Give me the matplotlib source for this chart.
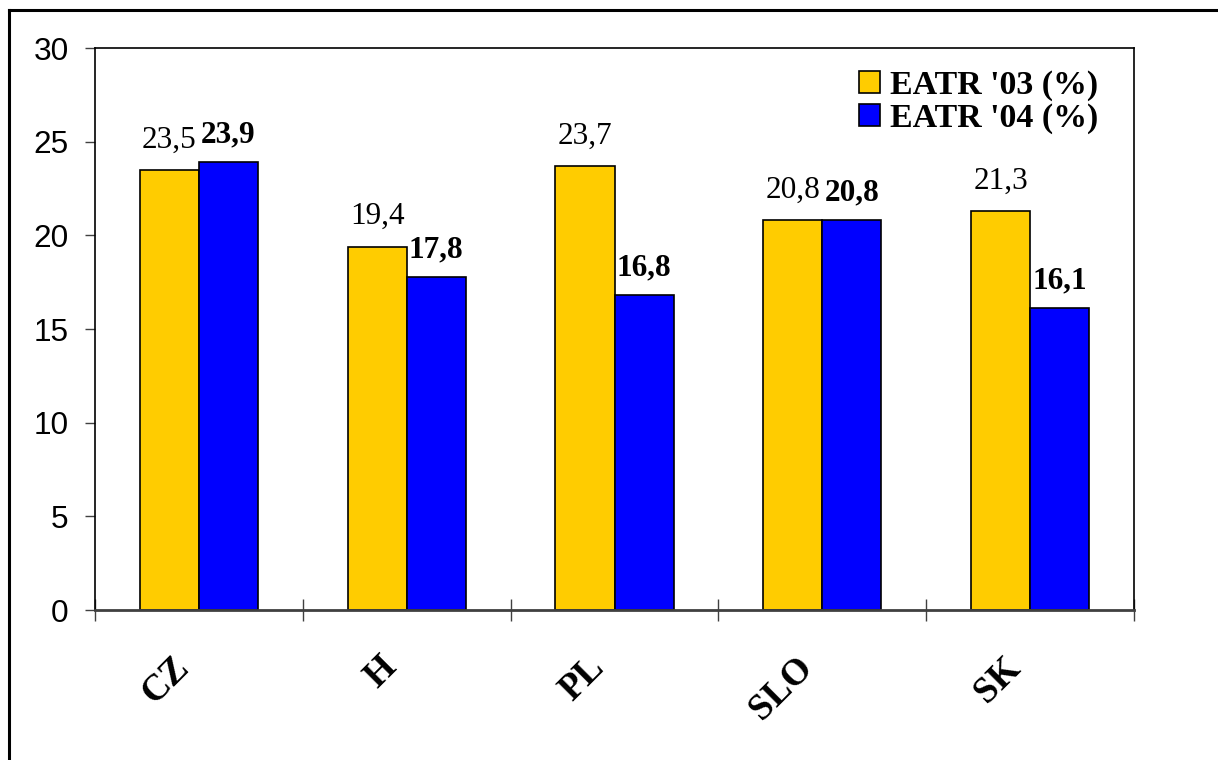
import matplotlib.pyplot as plt
from matplotlib.lines import Line2D
from matplotlib.transforms import ScaledTranslation, blended_transform_factory

# Data
countries = ['CZ', 'H', 'PL', 'SLO', 'SK']
eatr_03 = [23.5, 19.4, 23.7, 20.8, 21.3]
eatr_04 = [23.9, 17.8, 16.8, 20.8, 16.1]
series_names = ["EATR '03 (%)", "EATR '04 (%)"]
y_ticks = [0, 5, 10, 15, 20, 25, 30]

gold = '#FFCC00'
blue = '#0000FF'
serif = 'Liberation Serif'
sans = 'Liberation Sans'

fig = plt.figure(figsize=(12.18, 7.6), dpi=100)
ax = fig.add_axes([95 / 1218, 1 - 610 / 760, (1134 - 95) / 1218, (610 - 48) / 760])

centers = [i + 0.5 for i in range(len(countries))]
w = 0.284
ax.bar([c - w / 2 for c in centers], eatr_03, width=w, color=gold,
       edgecolor='black', linewidth=1.2, label=series_names[0], zorder=2)
ax.bar([c + w / 2 for c in centers], eatr_04, width=w, color=blue,
       edgecolor='black', linewidth=1.2, label=series_names[1], zorder=2)

# value labels
for c, v in zip(centers, eatr_03):
    ax.annotate(f'{v:.1f}'.replace('.', ','), (c - w / 2, v), xytext=(0, 11),
                textcoords='offset points', ha='center', va='bottom',
                fontsize=22.5, family=serif)
for c, v in zip(centers, eatr_04):
    ax.annotate(f'{v:.1f}'.replace('.', ','), (c + w / 2, v), xytext=(0, 9),
                textcoords='offset points', ha='center', va='bottom',
                fontsize=22.5, family=serif, fontweight='bold')

ax.set_xlim(0, len(countries))
ax.set_ylim(0, 30)
ax.set_yticks(y_ticks)
ax.set_yticklabels([str(t) for t in y_ticks], fontsize=22.7, family=sans)
ax.tick_params(axis='y', direction='out', length=7, width=1, color='#404040', pad=12)
ax.set_xticks(range(len(countries) + 1))
ax.set_xticklabels([])
ax.tick_params(axis='x', direction='inout', length=16, width=1, color='#404040')

# category labels, rotated
trans = blended_transform_factory(ax.transData, ax.transAxes) + \
    ScaledTranslation(-3 / 100, -40 / 100, fig.dpi_scale_trans)
for c, name in zip(centers, countries):
    ax.text(c, 0, name, transform=trans, rotation=45, ha='right', va='top',
            fontsize=26.5, family=serif, fontweight='bold')

for s in ['top', 'right', 'left']:
    ax.spines[s].set_color('black')
    ax.spines[s].set_linewidth(1.2)
ax.spines['bottom'].set_color('#404040')
ax.spines['bottom'].set_linewidth(2)

ax.legend(loc='upper right', bbox_to_anchor=(0.979, 0.985), frameon=False,
          prop={'family': serif, 'weight': 'bold', 'size': 24.4},
          handlelength=0.62, handleheight=0.62, handletextpad=0.3, labelspacing=0.05,
          borderaxespad=0)

# outer frame (left and top edges)
fig.add_artist(Line2D([9 / 1218, 9 / 1218], [0, 1 - 10 / 760], color='black', lw=2.2,
                      transform=fig.transFigure))
fig.add_artist(Line2D([9 / 1218, 1], [1 - 10 / 760, 1 - 10 / 760], color='black', lw=2.2,
                      transform=fig.transFigure))

fig.savefig('out.png', dpi=100)
